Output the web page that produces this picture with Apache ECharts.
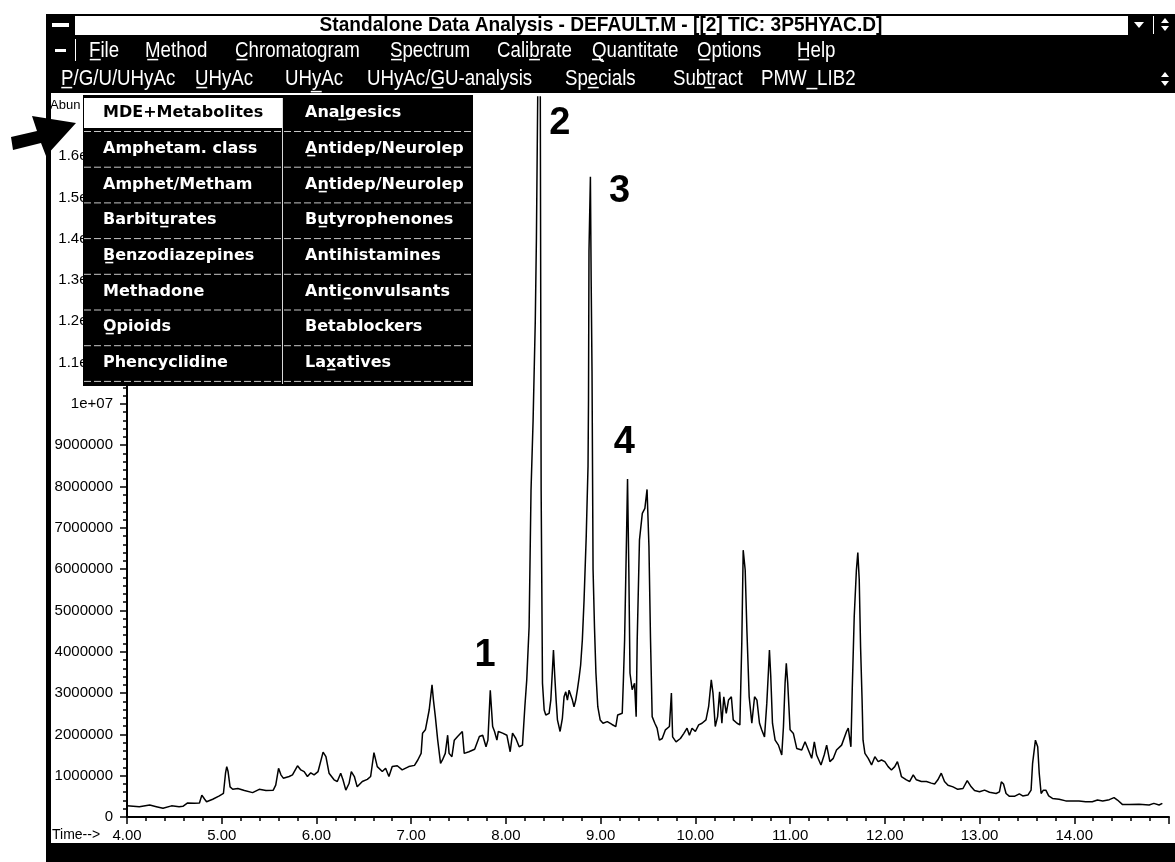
<!DOCTYPE html>
<html>
<head>
<meta charset="utf-8">
<title>TIC: 3P5HYAC.D</title>
<script src="https://cdn.jsdelivr.net/npm/echarts@6.0.0/dist/echarts.min.js"></script>
<style>
html, body { margin: 0; padding: 0; background: #fff; }
#main { width: 1175px; height: 862px; }
</style>
</head>
<body>
<div id="main"></div>
<script>
// TIC trace, [retention time in min, abundance in millions of counts]
var trace4to7 = [
  [4.00,0.27],[4.13,0.25],[4.24,0.29],[4.31,0.25],[4.38,0.21],[4.47,0.27],[4.55,0.25],[4.59,0.26],
  [4.64,0.34],[4.71,0.33],[4.765,0.34],[4.79,0.53],[4.82,0.43],[4.84,0.37],[4.905,0.43],[4.975,0.51],
  [5.018,0.57],[5.04,1.06],[5.053,1.22],[5.067,1.10],[5.088,0.73],[5.116,0.67],[5.17,0.69],[5.24,0.64],
  [5.326,0.59],[5.396,0.67],[5.467,0.64],[5.544,0.65],[5.57,0.77],[5.60,1.18],[5.625,1.02],[5.65,0.94],
  [5.712,0.98],[5.747,1.02],[5.80,1.24],[5.835,1.14],[5.87,1.10],[5.905,0.98],[5.94,1.07],[5.975,1.02],
  [6.017,1.10],[6.07,1.57],[6.10,1.46],[6.133,1.06],[6.186,0.90],[6.22,0.86],[6.256,1.06],[6.28,0.90],
  [6.31,0.65],[6.344,0.81],[6.368,1.10],[6.40,0.98],[6.43,0.73],[6.484,0.86],[6.537,0.91],[6.572,0.98],
  [6.607,1.56],[6.642,1.22],[6.695,1.10],[6.73,1.18],[6.765,0.98],[6.80,1.22],[6.853,1.24],[6.905,1.14],
  [6.975,1.22]
];
var trace7to9 = [
  [7.035,1.25],[7.07,1.38],[7.105,1.54],[7.12,2.03],[7.15,2.11],[7.17,2.07],[7.19,2.59],[7.22,3.20],
  [7.235,2.83],[7.255,2.43],[7.28,1.86],[7.31,1.30],[7.33,1.38],[7.36,1.54],[7.385,1.98],[7.40,1.54],
  [7.43,1.46],[7.455,1.86],[7.49,1.95],[7.54,2.07],[7.56,1.54],[7.61,1.58],[7.67,1.64],[7.72,1.95],
  [7.755,1.98],[7.79,1.70],[7.81,1.86],[7.835,3.07],[7.86,2.19],[7.88,2.07],[7.905,1.86],[7.92,2.07],
  [7.965,2.03],[8.01,1.98],[8.045,1.58],[8.07,2.03],[8.105,1.90],[8.14,1.70],[8.175,1.74],[8.20,2.67],
  [8.22,3.32],[8.245,4.61],[8.265,7.9],[8.287,9.6],[8.31,12.0],[8.322,14.0],[8.34,18.5],[8.362,18.5],
  [8.372,7.9],[8.386,3.24],[8.404,2.59],[8.421,2.47],[8.456,2.51],[8.474,2.83],[8.491,3.56],[8.502,4.04],
  [8.516,3.40],[8.53,2.83],[8.544,2.35],[8.572,2.07],[8.596,2.39],[8.614,2.91],[8.632,3.03],[8.649,2.83],
  [8.667,3.07],[8.684,3.03],[8.702,2.83],[8.719,2.67],[8.737,2.83],[8.754,3.07],[8.772,3.36],[8.789,3.68],
  [8.807,4.29],[8.825,5.25],[8.848,6.8],[8.867,8.5],[8.872,10.1],[8.877,13.7],[8.892,15.5],[8.90,13.0],
  [8.909,10.8],[8.92,6.0],[8.935,4.6],[8.95,3.5],[8.97,2.67],[8.995,2.35]
];
var trace9to11 = [
  [9.025,2.27],[9.07,2.31],[9.12,2.24],[9.16,2.19],[9.18,2.47],[9.20,2.51],[9.228,2.51],[9.24,3.3],
  [9.253,4.28],[9.274,6.87],[9.284,8.18],[9.298,5.9],[9.31,3.48],[9.333,3.08],[9.358,3.24],[9.375,2.43],
  [9.386,4.28],[9.41,6.71],[9.44,7.35],[9.467,7.47],[9.49,7.93],[9.51,6.55],[9.526,4.36],[9.544,2.43],
  [9.572,2.27],[9.596,2.15],[9.62,1.86],[9.65,1.90],[9.684,2.11],[9.726,2.19],[9.747,3.00],[9.76,1.94],
  [9.796,1.82],[9.842,1.90],[9.877,2.02],[9.912,2.15],[9.937,1.98],[9.965,2.15],[10.00,2.07],[10.035,2.23],
  [10.07,2.27],[10.112,2.35],[10.14,2.67],[10.168,3.32],[10.186,3.00],[10.21,2.19],[10.235,2.43],[10.256,3.03],
  [10.28,2.27],[10.30,2.91],[10.326,2.51],[10.35,2.83],[10.38,2.91],[10.40,2.35],[10.44,2.27],[10.47,2.23],
  [10.49,4.20],[10.505,6.46],[10.516,6.45],[10.526,5.98],[10.544,4.52],[10.568,2.91],[10.596,2.27],[10.625,2.91],
  [10.65,2.83],[10.677,2.27],[10.70,2.11],[10.73,1.94],[10.754,2.75],[10.772,3.56],[10.782,4.04],[10.796,3.40],
  [10.814,2.27],[10.842,1.86],[10.877,1.74],[10.912,1.50],[10.93,2.19],[10.947,3.24],[10.96,3.72],[10.975,3.24]
];
var trace11to15 = [
  [11.00,2.11],[11.035,2.02],[11.07,1.66],[11.123,1.62],[11.158,1.82],[11.193,1.62],[11.228,1.42],[11.256,1.82],
  [11.28,1.50],[11.326,1.26],[11.36,1.50],[11.386,1.74],[11.42,1.34],[11.456,1.42],[11.49,1.62],[11.544,1.74],
  [11.596,2.07],[11.614,2.15],[11.642,1.70],[11.656,3.08],[11.677,4.85],[11.70,5.98],[11.715,6.40],[11.73,5.74],
  [11.744,4.12],[11.76,2.83],[11.77,1.86],[11.79,1.54],[11.825,1.42],[11.86,1.26],[11.895,1.46],[11.93,1.34],
  [11.965,1.38],[12.00,1.34],[12.035,1.22],[12.07,1.14],[12.105,1.22],[12.133,1.34],[12.158,1.14],[12.175,0.98],
  [12.228,0.90],[12.263,0.86],[12.30,1.02],[12.333,0.90],[12.386,0.86],[12.44,0.86],[12.49,0.82],[12.526,0.80],
  [12.56,0.90],[12.596,1.06],[12.63,0.86],[12.667,0.77],[12.72,0.73],[12.77,0.67],[12.825,0.69],[12.87,0.88],
  [12.912,0.73],[12.947,0.64],[13.00,0.61],[13.053,0.65],[13.105,0.60],[13.175,0.57],[13.21,0.61],[13.23,0.85],
  [13.253,0.80],[13.28,0.57],[13.316,0.50],[13.368,0.50],[13.42,0.56],[13.456,0.51],[13.51,0.53],[13.544,0.65],
  [13.56,1.30],[13.59,1.86],[13.614,1.70],[13.63,1.06],[13.65,0.57],[13.674,0.65],[13.70,0.65],[13.73,0.51],
  [13.77,0.45],[13.84,0.43],[13.91,0.39],[13.98,0.39],[14.05,0.39],[14.12,0.37],[14.19,0.37],[14.245,0.41],
  [14.30,0.39],[14.37,0.42],[14.42,0.47],[14.456,0.41],[14.51,0.30],[14.58,0.30],[14.684,0.31],[14.79,0.29],
  [14.84,0.33],[14.895,0.29],[14.93,0.33]
];

// peak numbers written on the scan, placed in data units
var peakNames = ['1', '2', '3', '4'];
var peakLabelTime = [7.78, 8.57, 9.20, 9.25];
var peakLabelAbun = [3.92, 16.8, 15.13, 9.06];

// window text
var windowTitle = 'Standalone Data Analysis - DEFAULT.M - [[2] TIC: 3P5HYAC.D]';
var menuBarItems = ['F\u0332ile', 'M\u0332ethod', 'C\u0332hromatogram', 'S\u0332pectrum', 'Calib\u0332rate', 'Q\u0332uantitate', 'O\u0332ptions', 'H\u0332elp'];
var toolBarItems = ['P\u0332/G/U/UHyAc', 'U\u0332HyAc', 'UHy\u0332Ac', 'UHyAc/G\u0332U-analysis', 'Spe\u0332cials', 'Subt\u0332ract', 'PMW_LIB2'];
var libMenuLeft = ['MDE+Metabolites', 'Amphetam. class', 'Amphet/Metham', 'Barbitu\u0332rates', 'B\u0332enzodiazepines', 'Methadone', 'O\u0332pioids', 'Phencyclidine'];
var libMenuRight = ['Anal\u0332gesics', 'A\u0332ntidep/Neurolep', 'An\u0332tidep/Neurolep', 'Bu\u0332tyrophenones', 'Antihistamines', 'Antic\u0332onvulsants', 'Betablockers', 'Lax\u0332atives'];

var trace = trace4to7.concat(trace7to9, trace9to11, trace11to15).map(function (p) {
  return [p[0], p[1] * 1e6];
});

// ---- window chrome (drawn as graphics on top of the chart) ----
var menuBarX = [89, 145, 235, 390, 497, 592, 697, 797];
var toolBarX = [61, 195, 285, 367, 565, 673, 761];
var barFont = '22px "Liberation Sans", sans-serif';
var menuFont = 'bold 16px "DejaVu Sans", sans-serif';

var g = [];
function rect(x, y, w, h, fill) {
  g.push({ type: 'rect', z: 100, silent: true, shape: { x: x, y: y, width: w, height: h }, style: { fill: fill } });
}
function seg(x1, y1, x2, y2, stroke, lw, dash) {
  g.push({ type: 'line', z: 101, silent: true, shape: { x1: x1, y1: y1, x2: x2, y2: y2 },
    style: { stroke: stroke, lineWidth: lw, lineDash: dash || null } });
}
function poly(points, fill) {
  g.push({ type: 'polygon', z: 102, silent: true, shape: { points: points }, style: { fill: fill } });
}
function label(x, y, text, font, fill, align, sx) {
  g.push({ type: 'text', z: 103, silent: true, x: x, y: y, scaleX: sx || 1,
    style: { text: text, font: font, fill: fill, textAlign: align || 'left', textVerticalAlign: 'middle', align: align || 'left', verticalAlign: 'middle' } });
}

// frame, title bar
rect(46, 14, 1129, 2, '#000');
rect(46, 14, 29, 21, '#000');
rect(52, 23, 17, 4, '#fff');
label(601, 25, windowTitle, 'bold 21px "Liberation Sans", sans-serif', '#000', 'center', 0.91);
rect(1128, 14, 47, 21, '#000');
seg(1153.5, 16, 1153.5, 34, '#fff', 1);
poly([[1134, 22], [1144, 22], [1139, 28]], '#fff');
poly([[1161, 23], [1169, 23], [1165, 18]], '#fff');
poly([[1161, 26], [1169, 26], [1165, 31]], '#fff');
// menu bar
rect(46, 35, 1129, 30, '#000');
rect(55, 49, 11, 3, '#fff');
seg(75.5, 39, 75.5, 61, '#fff', 1);
menuBarItems.forEach(function (s, i) { label(menuBarX[i], 51, s, barFont, '#fff', 'left', 0.85); });
// tool bar
rect(46, 65, 1129, 28, '#000');
toolBarItems.forEach(function (s, i) { label(toolBarX[i], 79, s, barFont, '#fff', 'left', 0.85); });
poly([[1161, 77], [1169, 77], [1165, 72]], '#fff');
poly([[1161, 81], [1169, 81], [1165, 86]], '#fff');
// left border and status strip
rect(46, 14, 5, 848, '#000');
rect(46, 843, 1129, 19, '#000');
label(50, 105, 'Abun', '13px "Liberation Sans", sans-serif', '#000');
label(52, 835, 'Time-->', '14px "Liberation Sans", sans-serif', '#000');

// library drop-down menu
rect(83, 95, 390, 291, '#000');
rect(84, 98, 198, 30, '#fff');
seg(282.5, 98, 282.5, 384, '#d8d8d8', 1);
for (var r = 0; r < 8; r++) {
  seg(84, 131.5 + 35.7 * r, 472, 131.5 + 35.7 * r, '#c8c8c8', 1, [7, 3]);
  label(103, 113 + 35.7 * r, libMenuLeft[r], menuFont, r === 0 ? '#000' : '#fff');
  label(305, 113 + 35.7 * r, libMenuRight[r], menuFont, '#fff');
}
// arrow pointing at the selected entry
poly([[11, 137], [37, 131], [32, 116], [76, 123], [46, 156], [41, 143], [13, 150]], '#000');

var chart = echarts.init(document.getElementById('main'), null, { renderer: 'canvas' });

chart.setOption({
  animation: false,
  backgroundColor: '#fff',
  grid: { left: 127, right: 6, top: 97, bottom: 45, outerBoundsMode: 'none', containLabel: false },
  xAxis: {
    type: 'value',
    min: 4,
    max: 15,
    interval: 1,
    axisLine: { show: true, onZero: false, lineStyle: { color: '#000', width: 2 } },
    axisTick: { show: true, length: 7, lineStyle: { color: '#000', width: 1.5 } },
    minorTick: { show: true, splitNumber: 5, length: 4, lineStyle: { color: '#000', width: 1.5 } },
    splitLine: { show: false },
    axisLabel: {
      show: true, margin: 11, color: '#000', fontSize: 15, fontFamily: 'Liberation Sans',
      showMaxLabel: false,
      formatter: function (v) { return v.toFixed(2); }
    }
  },
  yAxis: {
    type: 'value',
    min: 0,
    max: 17.43e6,
    interval: 1e6,
    axisLine: { show: true, lineStyle: { color: '#000', width: 2 } },
    axisTick: { show: true, length: 7, lineStyle: { color: '#000', width: 1.5 } },
    minorTick: { show: true, splitNumber: 5, length: 4, lineStyle: { color: '#000', width: 1.5 } },
    splitLine: { show: false },
    axisLabel: {
      show: true, margin: 14, color: '#000', fontSize: 15, fontFamily: 'Liberation Sans',
      showMaxLabel: false,
      formatter: function (v) {
        if (v > 16.5e6) return '';
        if (v < 1e7) return String(Math.round(v));
        if (v === 1e7) return '1e+07';
        return (v / 1e7).toFixed(1) + 'e+07';
      }
    }
  },
  series: [
    {
      type: 'line',
      data: trace,
      showSymbol: false,
      symbol: 'none',
      clip: true,
      lineStyle: { color: '#000', width: 1.5 },
      silent: true
    },
    {
      type: 'scatter',
      data: peakNames.map(function (n, i) { return { name: n, value: [peakLabelTime[i], peakLabelAbun[i] * 1e6] }; }),
      symbolSize: 1,
      itemStyle: { color: 'rgba(0,0,0,0)' },
      silent: true,
      z: 5,
      label: {
        show: true, position: 'inside', formatter: '{b}', opacity: 1,
        color: '#000', textBorderWidth: 0, textBorderColor: 'transparent',
        fontSize: 38, fontWeight: 'bold', fontFamily: 'Liberation Sans'
      },
      labelLayout: { hideOverlap: false }
    }
  ],
  graphic: { elements: g }
});
</script>
</body>
</html>
